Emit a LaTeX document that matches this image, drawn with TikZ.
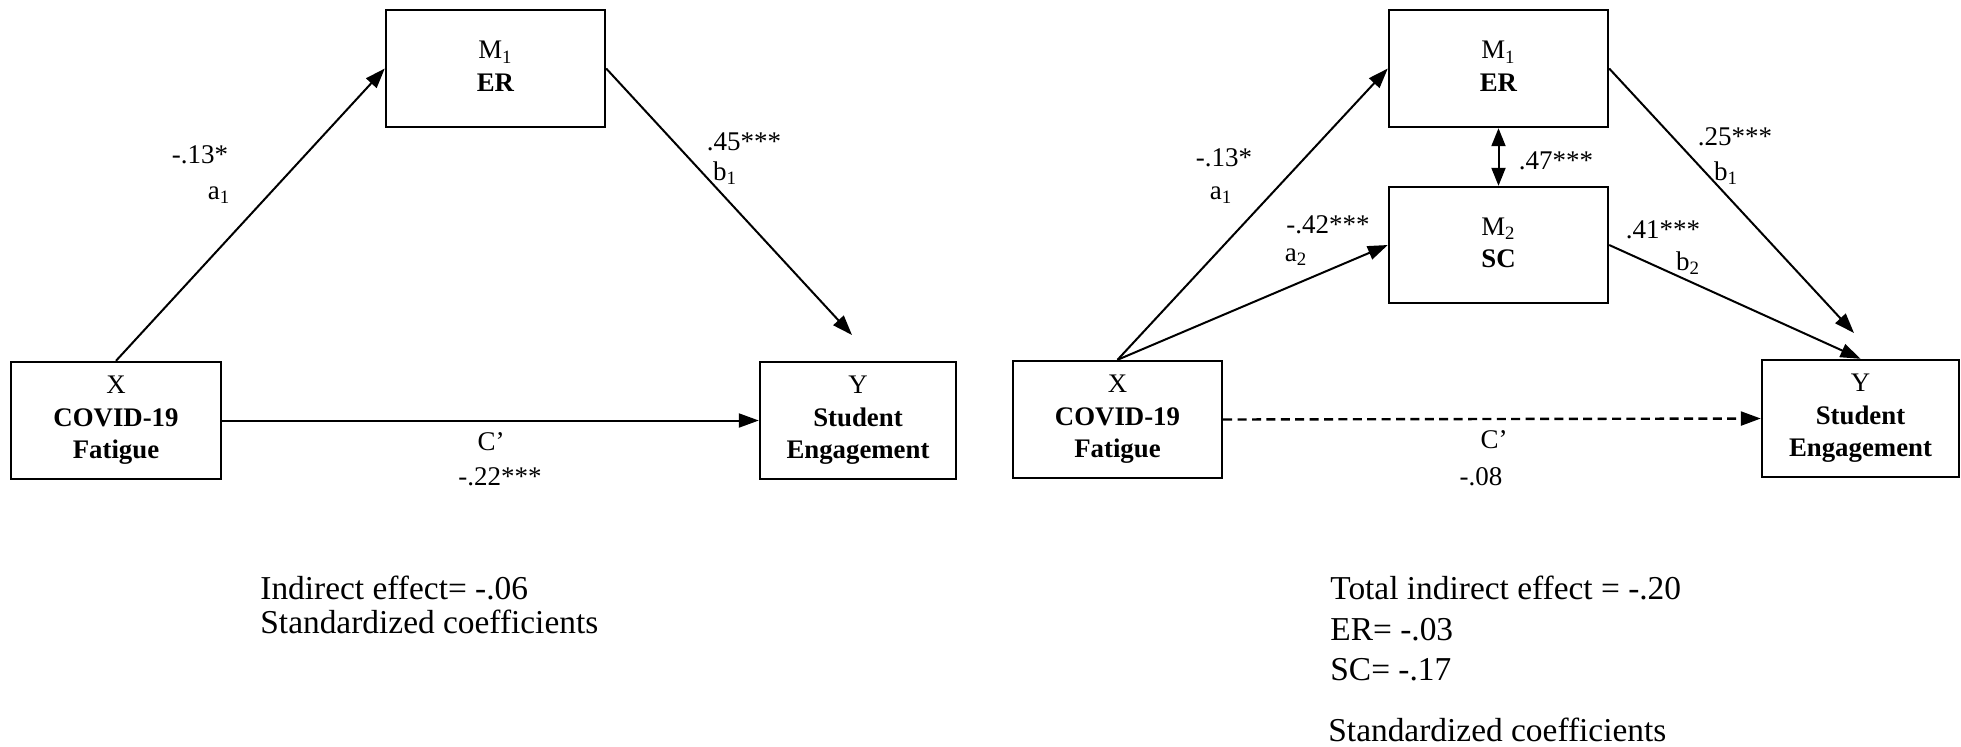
\documentclass[tikz,border=0pt]{standalone}
\usepackage{fontspec}
\setmainfont{Liberation Serif}
\usetikzlibrary{arrows.meta}
\newcommand{\mtext}[2]{\raisebox{-1.5pt}{\begin{tabular}{@{}c@{}}#1\\#2\end{tabular}}}
\begin{document}
\begin{tikzpicture}[x=0.5pt,y=-0.5pt,
  box/.style={draw, line width=1.2pt, inner sep=0pt, align=center,
    font=\fontsize{13.4}{16.2}\selectfont, minimum height=58.5pt},
  lbl/.style={font=\fontsize{13.5}{16}\selectfont, inner sep=0pt},
  note/.style={font=\fontsize{16.7}{19}\selectfont, inner sep=0pt, anchor=west},
  arr/.style={line width=1pt, -{Triangle[length=10pt,width=7pt]}},
  darr/.style={line width=1pt, {Triangle[length=9pt,width=7pt]}-{Triangle[length=9pt,width=7pt]}},
  dasharr/.style={line width=1.2pt, dash pattern=on 4.5pt off 2.7pt, -{Triangle[length=10pt,width=7pt]}},
]
\useasboundingbox (0,0) rectangle (1961,746);

% ---------- left model ----------
\node[box, minimum width=105pt] (XL) at (116,420.5) {X\\\textbf{COVID-19}\\\textbf{Fatigue}};
\node[box, minimum width=109.5pt] (ML) at (495.5,68.5) {\mtext{M\textsubscript{1}}{\textbf{ER}}};
\node[box, minimum width=98pt] (YL) at (858,420.5) {Y\\\textbf{Student}\\\textbf{Engagement}};
\coordinate (YLtip) at (852,335);

\draw[arr] (XL.north) -- (ML.west);
\draw[arr] (ML.east) -- (YLtip);
\draw[arr] (XL.east) -- (YL.west);

\node[lbl] (la1v) at (200,155) {-.13*};
\node[lbl] (la1) at (219,195) {a\textsubscript{1}};
\node[lbl] (lb1v) at (744,142) {.45***};
\node[lbl] (lb1) at (725,173) {b\textsubscript{1}};
\node[lbl] (lc) at (491,442) {C’};
\node[lbl] (lcv) at (500,477) {-.22***};

\node[note] (nl1) at (260,588) {Indirect effect= -.06};
\node[note] (nl2) at (260,622) {Standardized coefficients};

% ---------- right model ----------
\node[box, minimum width=104.5pt] (XR) at (1117.5,419.5) {X\\\textbf{COVID-19}\\\textbf{Fatigue}};
\node[box, minimum width=109.5pt] (M1R) at (1498.5,68.5) {\mtext{M\textsubscript{1}}{\textbf{ER}}};
\node[box, minimum width=109.5pt, minimum height=58pt] (M2R) at (1498.5,245) {\mtext{M\textsubscript{2}}{\textbf{SC}}};
\node[box, minimum width=98.5pt] (YR) at (1860.5,418.5) {Y\\\textbf{Student}\\\textbf{Engagement}};
\coordinate (YRtip) at (1854,333);

\draw[arr] (XR.north) -- (M1R.west);
\draw[arr] (XR.north) -- (M2R.west);
\draw[arr] (M1R.east) -- (YRtip);
\draw[arr] (M2R.east) -- (YR.north);
\draw[darr] (M1R.south) -- (M2R.north);
\draw[dasharr] (XR.east) -- (YR.west);

\node[lbl] (ra1v) at (1224,158) {-.13*};
\node[lbl] (ra1) at (1221,195) {a\textsubscript{1}};
\node[lbl] (ra2v) at (1328,225) {-.42***};
\node[lbl] (ra2) at (1296,257) {a\textsubscript{2}};
\node[lbl] (rcor) at (1556,161) {.47***};
\node[lbl] (rb1v) at (1735,137) {.25***};
\node[lbl] (rb1) at (1726,173) {b\textsubscript{1}};
\node[lbl] (rb2v) at (1663,230) {.41***};
\node[lbl] (rb2) at (1688,263) {b\textsubscript{2}};
\node[lbl] (rc) at (1494,440) {C’};
\node[lbl] (rcv) at (1481,477) {-.08};

\node[note] (nr1) at (1330,588) {Total indirect effect = -.20};
\node[note] (nr2) at (1330,630) {ER= -.03};
\node[note] (nr3) at (1330,670) {SC= -.17};
\node[note] (nr4) at (1328,730) {Standardized coefficients};
\end{tikzpicture}
\end{document}
